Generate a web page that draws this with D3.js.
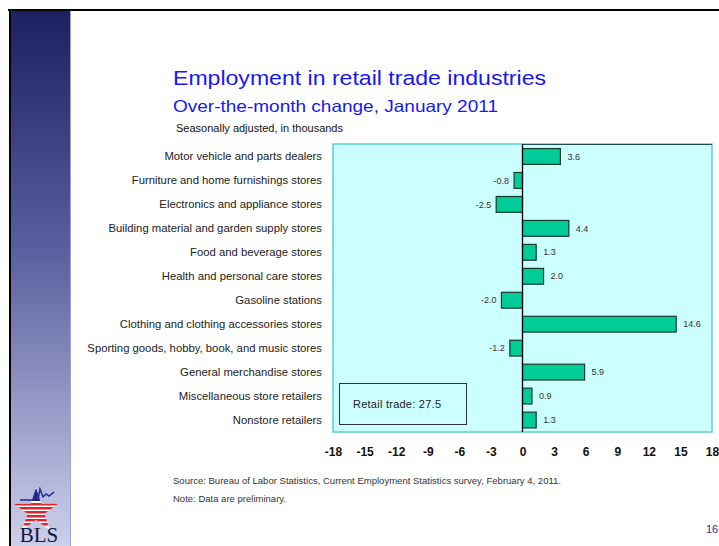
<!DOCTYPE html>
<html lang="en">
<head>
    <meta charset="UTF-8">
    <title>Employment in retail trade industries</title>
    <script src="https://d3js.org/d3.v7.min.js" charset="utf-8"></script>
    <style>
        body { margin: 0; background: #fff; }
    </style>
</head>
<body>

<script>
var width = 719, height = 546;

// data
var categories = [
  "Motor vehicle and parts dealers",
  "Furniture and home furnishings stores",
  "Electronics and appliance stores",
  "Building material and garden supply stores",
  "Food and beverage stores",
  "Health and personal care stores",
  "Gasoline stations",
  "Clothing and clothing accessories stores",
  "Sporting goods, hobby, book, and music stores",
  "General merchandise stores",
  "Miscellaneous store retailers",
  "Nonstore retailers"
];
var values = [3.6, -0.8, -2.5, 4.4, 1.3, 2.0, -2.0, 14.6, -1.2, 5.9, 0.9, 1.3];
var tickValues = [-18, -15, -12, -9, -6, -3, 0, 3, 6, 9, 12, 15, 18];
var totalLabel = "Retail trade:  27.5";

var narrow = "'Liberation Sans Narrow', 'Arial Narrow', 'Liberation Sans', Arial, sans-serif";

var svg = d3.select("body").append("svg")
  .attr("width", width)
  .attr("height", height)
  .style("font-family", "'Liberation Sans', Arial, sans-serif");

// slide frame: sidebar gradient + black lines
var defs = svg.append("defs");
var grad = defs.append("linearGradient")
  .attr("id", "side")
  .attr("x1", 0).attr("y1", 0).attr("x2", 0).attr("y2", 1);
grad.append("stop").attr("offset", "0%").attr("stop-color", "#1c1f62");
grad.append("stop").attr("offset", "45%").attr("stop-color", "#5a5f9f");
grad.append("stop").attr("offset", "100%").attr("stop-color", "#cdd0ea");

svg.append("rect")
  .attr("x", 11).attr("y", 10).attr("width", 59).attr("height", height - 10)
  .style("fill", "url(#side)");
svg.append("line")
  .attr("x1", 70.5).attr("x2", 70.5).attr("y1", 10).attr("y2", height)
  .style("stroke", "#9da3d4").style("stroke-width", 1);
svg.append("line")
  .attr("x1", 8).attr("x2", width).attr("y1", 10).attr("y2", 10)
  .style("stroke", "#000").style("stroke-width", 2);
svg.append("line")
  .attr("x1", 10).attr("x2", 10).attr("y1", 10).attr("y2", height)
  .style("stroke", "#000").style("stroke-width", 2);

// BLS logo (rough)
var logo = svg.append("g").attr("transform", "translate(36,511)");
var star = d3.symbol().type(d3.symbolStar).size(620);
logo.append("clipPath").attr("id", "starclip")
  .append("path").attr("d", star());
logo.append("path").attr("d", star()).style("fill", "#fff");
var stripes = logo.append("g").attr("clip-path", "url(#starclip)");
stripes.append("rect").attr("x", -22).attr("y", -22).attr("width", 44).attr("height", 12).style("fill", "#1f2b8f");
for (var s = 0; s < 6; s++) {
  stripes.append("rect").attr("x", -22).attr("y", -8 + s * 4).attr("width", 44).attr("height", 2.5).style("fill", "#e0262c");
}
logo.append("path")
  .attr("d", "M-16,-11 L2,-11 L4,-22 L7,-14 L10,-17 L13,-15 L18,-19")
  .style("fill", "none").style("stroke", "#1f2b8f").style("stroke-width", 1.5);
svg.append("text")
  .attr("x", 39).attr("y", 542)
  .attr("text-anchor", "middle")
  .style("font-family", "'Liberation Serif', 'DejaVu Serif', serif")
  .style("font-size", "21px")
  .style("fill", "#101640")
  .text("BLS");

// titles
svg.append("text")
  .attr("x", 173).attr("y", 85)
  .attr("textLength", 373).attr("lengthAdjust", "spacingAndGlyphs")
  .style("font-size", "20.5px").style("fill", "#1717f5")
  .text("Employment in retail trade industries");
svg.append("text")
  .attr("x", 173).attr("y", 112)
  .attr("textLength", 325).attr("lengthAdjust", "spacingAndGlyphs")
  .style("font-size", "16.5px").style("fill", "#1717f5")
  .text("Over-the-month change, January 2011");
svg.append("text")
  .attr("x", 176).attr("y", 132)
  .attr("textLength", 167).attr("lengthAdjust", "spacingAndGlyphs")
  .style("font-size", "10px").style("fill", "#111")
  .text("Seasonally adjusted, in thousands");

// scales
var x = d3.scaleLinear().domain([-18, 18]).range([333, 712]);
var y = d3.scaleBand().domain(categories).range([144.5, 432])
  .paddingInner(0.34).paddingOuter(0.17);

// plot area
svg.append("rect")
  .attr("x", x(-18)).attr("y", 144)
  .attr("width", x(18) - x(-18)).attr("height", 288)
  .style("fill", "#ccffff")
  .style("stroke", "#5fcfcf").style("stroke-width", 1.5);
svg.append("line")
  .attr("x1", x(0)).attr("x2", x(18)).attr("y1", 144.5).attr("y2", 144.5)
  .style("stroke", "#1d4d4d").style("stroke-width", 1);

// total box
svg.append("rect")
  .attr("x", 339.5).attr("y", 383.5).attr("width", 127).attr("height", 41)
  .style("fill", "none").style("stroke", "#333").style("stroke-width", 1);
svg.append("text")
  .attr("x", 353).attr("y", 408)
  .attr("textLength", 88).attr("lengthAdjust", "spacing")
  .style("font-size", "11px").style("fill", "#222")
  .text(totalLabel);

var data = categories.map(function(c, i) { return {name: c, value: values[i]}; });

// bars
svg.selectAll("rect.bar")
  .data(data)
  .enter().append("rect")
  .attr("class", "bar")
  .attr("x", function(d) { return x(Math.min(0, d.value)); })
  .attr("y", function(d) { return y(d.name); })
  .attr("width", function(d) { return Math.abs(x(d.value) - x(0)); })
  .attr("height", y.bandwidth())
  .style("fill", "#00cc99")
  .style("stroke", "#183828")
  .style("stroke-width", 1.2);

// zero line
svg.append("line")
  .attr("x1", x(0)).attr("x2", x(0)).attr("y1", 144).attr("y2", 432)
  .style("stroke", "#000").style("stroke-width", 1.3);

// value labels
svg.selectAll("text.val")
  .data(data)
  .enter().append("text")
  .attr("class", "val")
  .attr("x", function(d) { return d.value >= 0 ? x(d.value) + 7 : x(d.value) - 5; })
  .attr("y", function(d) { return y(d.name) + y.bandwidth() / 2; })
  .attr("dy", "0.35em")
  .attr("text-anchor", function(d) { return d.value >= 0 ? "start" : "end"; })
  .style("font-size", "9px")
  .style("fill", "#333")
  .text(function(d) { return d.value.toFixed(1); });

// category labels
svg.selectAll("text.cat")
  .data(data)
  .enter().append("text")
  .attr("class", "cat")
  .attr("x", 322)
  .attr("y", function(d) { return y(d.name) + y.bandwidth() / 2; })
  .attr("dy", "0.35em")
  .attr("text-anchor", "end")
  .style("font-size", "11.3px")
  .style("fill", "#222")
  .text(function(d) { return d.name; });

// x axis, labels only
var axis = svg.append("g")
  .attr("transform", "translate(0,447)")
  .call(d3.axisBottom(x).tickValues(tickValues).tickSize(0).tickPadding(0)
    .tickFormat(function(d) { return String(d); }));
axis.select(".domain").remove();
axis.selectAll("text")
  .attr("dy", "0.75em")
  .style("font-family", narrow)
  .style("font-size", "12px")
  .style("font-weight", "bold")
  .style("fill", "#111");

// notes
svg.append("text")
  .attr("x", 173).attr("y", 484)
  .attr("textLength", 388).attr("lengthAdjust", "spacing")
  .style("font-family", narrow)
  .style("font-size", "9.5px").style("fill", "#333")
  .text("Source:  Bureau of Labor Statistics, Current Employment Statistics survey, February 4, 2011.");
svg.append("text")
  .attr("x", 173).attr("y", 502)
  .attr("textLength", 113).attr("lengthAdjust", "spacing")
  .style("font-family", narrow)
  .style("font-size", "9.5px").style("fill", "#333")
  .text("Note: Data are preliminary.");

// page number
svg.append("text")
  .attr("x", 706).attr("y", 533)
  .style("font-size", "11px").style("fill", "#2e3192")
  .text("16");
</script>

</body>
</html>
